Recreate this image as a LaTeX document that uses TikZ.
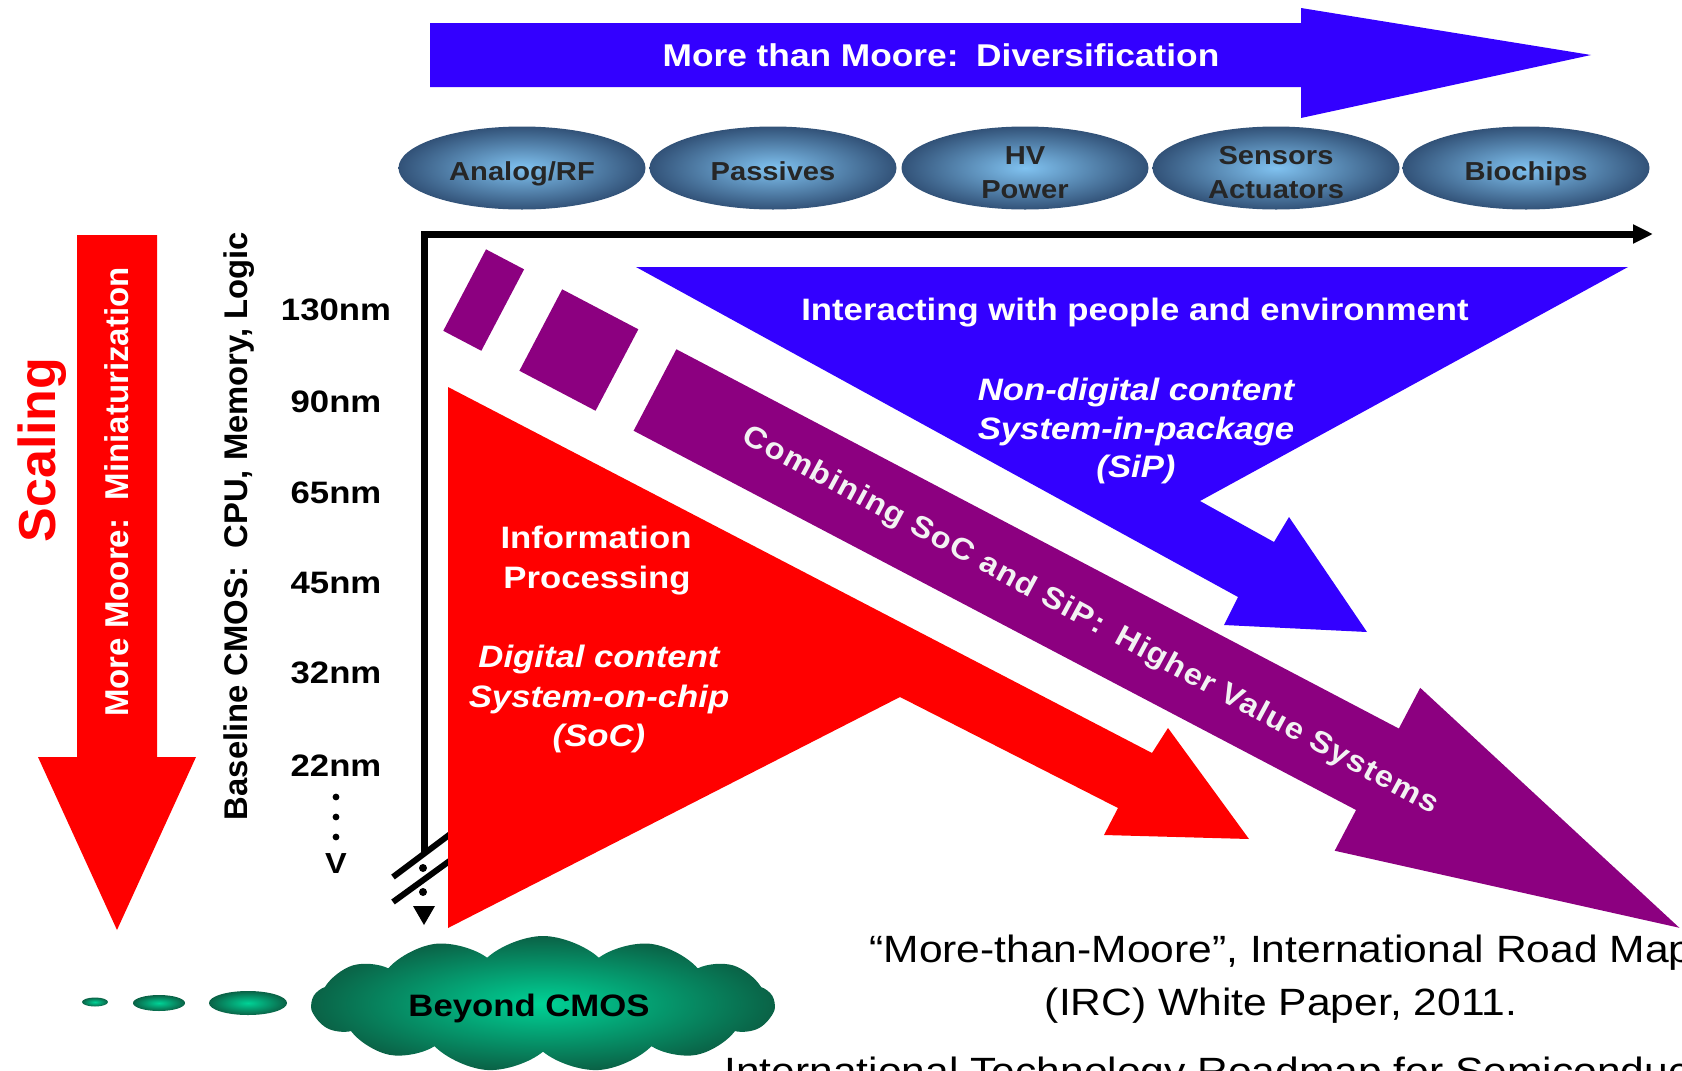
\documentclass[tikz,border=0pt]{standalone}
\usepackage{fontspec}
\setmainfont{Liberation Sans}
\newfontfamily\wideface[FakeStretch=1.12]{Liberation Sans}
\newfontfamily\bandface[FakeStretch=1.09,LetterSpace=4]{Liberation Sans}
\usetikzlibrary{arrows.meta,shapes.geometric,shapes.symbols}

\definecolor{mtmblue}{RGB}{51,0,255}
\definecolor{mmred}{RGB}{255,0,0}
\definecolor{sippurple}{RGB}{140,0,128}
\definecolor{pillin}{RGB}{128,194,240}
\definecolor{pillout}{RGB}{50,82,120}
\definecolor{cloudin}{RGB}{0,210,150}
\definecolor{cloudout}{RGB}{10,98,70}
\definecolor{bandtext}{RGB}{242,242,242}

\begin{document}
\begin{tikzpicture}[x=0.5pt,y=-0.5pt,
  hlabel/.style={font=\wideface\bfseries\fontsize{15.5}{18}\selectfont, inner sep=0pt, anchor=base},
  ilabel/.style={font=\wideface\bfseries\itshape\fontsize{15.5}{18}\selectfont, inner sep=0pt, anchor=base, text=white},
  pill/.style={ellipse, minimum width=123.5pt, minimum height=41.5pt, inner sep=0pt,
    shading=radial, inner color=pillin, outer color=pillout},
  pilltext/.style={font=\wideface\bfseries\fontsize{13}{16}\selectfont, inner sep=0pt, anchor=base, text=black!85},
  vtext/.style={rotate=90, inner sep=0pt, anchor=base},
  axisline/.style={line width=3.5pt},
  reftext/.style={font=\wideface\fontsize{19}{23}\selectfont, inner sep=0pt, anchor=base},
  bubble/.style={ellipse, inner sep=0pt, shading=radial, inner color=cloudin, outer color=cloudout},
]
\useasboundingbox (0,0) rectangle (1682,1071);
\clip (0,0) rectangle (1682,1071);

% More than Moore arrow
\fill[mtmblue] (430,23) -- (1301,23) -- (1301,8) -- (1591,55) -- (1301,118) -- (1301,87) -- (430,87) -- cycle;
\node[hlabel, text=white, font=\wideface\bfseries\fontsize{15.75}{18}\selectfont] (mtm) at (941,66) {More than Moore:\hspace{.56em}Diversification};

% technology pills
\node[pill] (p1) at (522,168) {};
\node[pill] (p2) at (773,168) {};
\node[pill] (p3) at (1025,168) {};
\node[pill] (p4) at (1276,168) {};
\node[pill] (p5) at (1526,168) {};
\node[pilltext] (t1) at (522,180) {Analog/RF};
\node[pilltext] (t2) at (773,180) {Passives};
\node[pilltext] (t3a) at (1025,164) {HV};
\node[pilltext] (t3b) at (1025,198) {Power};
\node[pilltext] (t4a) at (1276,164) {Sensors};
\node[pilltext] (t4b) at (1276,198) {Actuators};
\node[pilltext] (t5) at (1526,180) {Biochips};

% axes
\coordinate (origin) at (424,234);
\coordinate (xend) at (1653,234);
\coordinate (ybreak) at (424,854);
\coordinate (yend) at (424,925);
\draw[axisline, -{Triangle[length=10pt,width=9pt]}] (ybreak) -- (origin) -- (xend);
\draw[line width=3pt] (393,877) -- (453,832);
\draw[line width=3pt] (393,902) -- (455,857);
\fill (423,868) circle (2pt);
\fill (423,892) circle (2pt);
\fill (413,906) -- (435,906) -- (yend) -- cycle;

% scaling arrow
\fill[mmred] (77,235) -- (157,235) -- (157,757) -- (196,757) -- (117,930) -- (38,757) -- (77,757) -- cycle;
\node[vtext, font=\bfseries\fontsize{26}{30}\selectfont, text=mmred] (scaling) at (55,450) {Scaling};
\node[vtext, font=\bfseries\fontsize{16.5}{20}\selectfont, text=white] (mmtext) at (128,492) {More Moore:\hspace{.56em}Miniaturization};
\node[vtext, font=\bfseries\fontsize{16.4}{20}\selectfont] (cmos) at (247,526) {Baseline CMOS:\hspace{.56em}CPU, Memory, Logic};

% technology nodes
\node[hlabel] (n130) at (336,320) {130nm};
\node[hlabel] (n90) at (336,412) {90nm};
\node[hlabel] (n65) at (336,503) {65nm};
\node[hlabel] (n45) at (336,593) {45nm};
\node[hlabel] (n32) at (336,683) {32nm};
\node[hlabel] (n22) at (336,776) {22nm};
\fill (336,797) circle (1.7pt);
\fill (336,817) circle (1.7pt);
\fill (336,837) circle (1.7pt);
\node[hlabel, font=\wideface\bfseries\fontsize{14.5}{18}\selectfont] (vmark) at (336,873) {V};

% interacting with people (SiP)
\fill[mtmblue] (636,267) -- (1628,267) -- (1200,501) -- (1274,542) -- (1289,517) -- (1367,632) -- (1224,625) -- (1238,597) -- cycle;
\node[hlabel, text=white] (sip1) at (1135,320) {Interacting with people and environment};
\node[ilabel] (sip2) at (1136,400) {Non-digital content};
\node[ilabel] (sip3) at (1136,439) {System-in-package};
\node[ilabel] (sip4) at (1136,477) {(SiP)};

% combining band
\begin{scope}[shift={(655,390)}, rotate=-27.7]
  \fill[sippurple] (-215,-46) rectangle (-172,46);
  \fill[sippurple] (-129,-46) rectangle (-43,46);
  \fill[sippurple] (0,-46) -- (816,-46) -- (816,-92) -- (1157,0) -- (816,92) -- (816,46) -- (0,46) -- cycle;
\end{scope}
\node[font=\bandface\bfseries\fontsize{15}{18}\selectfont, text=bandtext, rotate=-28.3, inner sep=0pt] (band) at (1090,621) {Combining SoC and SiP:\hspace{.56em}Higher Value Systems};

% information processing (SoC)
\fill[mmred] (448,387) -- (1152,753) -- (1168,728) -- (1249,839) -- (1104,835) -- (1118,808) -- (900,697) -- (448,928) -- cycle;
\node[hlabel, text=white] (soc1) at (596,548) {Information};
\node[hlabel, text=white] (soc2) at (597,588) {Processing};
\node[ilabel] (soc3) at (599,667) {Digital content};
\node[ilabel] (soc4) at (599,707) {System-on-chip};
\node[ilabel] (soc5) at (599,746) {(SoC)};

% beyond CMOS
\node[bubble, minimum width=13pt, minimum height=4.5pt] (b1) at (95,1002) {};
\node[bubble, minimum width=26pt, minimum height=8pt] (b2) at (159,1003) {};
\node[bubble, minimum width=39pt, minimum height=12pt] (b3) at (248,1003) {};
\node[cloud, cloud puffs=13, cloud puff arc=85, cloud ignores aspect, minimum width=231pt, minimum height=68pt,
  inner sep=0pt, shading=radial, inner color=cloudin, outer color=cloudout] (cloud) at (543,1004) {};
\node[hlabel] (beyond) at (529,1016) {Beyond CMOS};

% references
\node[reftext, anchor=base west] (ref1) at (869,962) {“More-than-Moore”, International Road Map};
\node[reftext] (ref2) at (1281,1015) {(IRC) White Paper, 2011.};
\node[reftext, anchor=base west] (ref3) at (724,1084) {International Technology Roadmap for Semiconductors};
\end{tikzpicture}
\end{document}
